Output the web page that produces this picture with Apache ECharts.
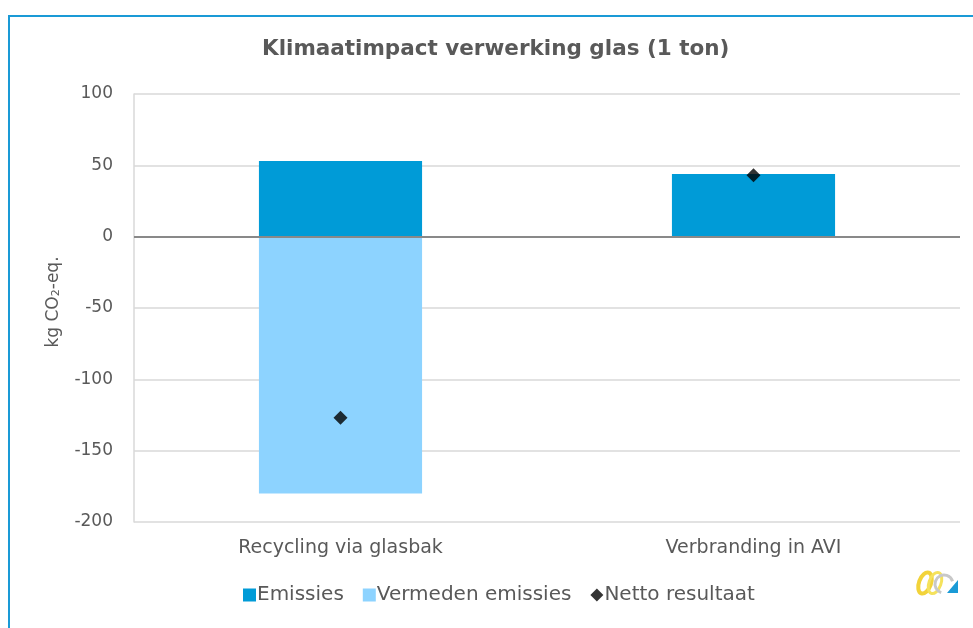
<!DOCTYPE html>
<html>
<head>
<meta charset="utf-8">
<script src="https://cdn.jsdelivr.net/npm/echarts@6/dist/echarts.min.js"></script>
<style>
  html, body { margin: 0; padding: 0; background: #fff; }
  #chart { width: 973px; height: 628px; }
</style>
</head>
<body>
<div id="chart"></div>
<script>
  // data
  var categories = ['Recycling via glasbak', 'Verbranding in AVI']
  var emissies = [53, 44]
  var vermeden = [-180, 0]
  var netto = [-127, 43]
  var yTicks = { min: -200, max: 100, interval: 50 }

  var textColor = '#595959'
  var font = 'DejaVu Sans'

  var chart = echarts.init(document.getElementById('chart'))
  chart.setOption({
    animation: false,
    textStyle: { fontFamily: font },
    graphic: [
      {
        type: 'rect',
        shape: { x: 9, y: 16, width: 980, height: 640 },
        style: { fill: 'none', stroke: '#1a9ad6', lineWidth: 2 },
        silent: true
      },
      // klein logo rechtsonder
      { type: 'ellipse', shape: { cx: 925, cy: 583, rx: 6, ry: 11 }, rotation: -0.35, originX: 925, originY: 583,
        style: { fill: 'none', stroke: '#f2d33a', lineWidth: 4 }, silent: true },
      { type: 'ellipse', shape: { cx: 935, cy: 583, rx: 6, ry: 11 }, rotation: -0.35, originX: 935, originY: 583,
        style: { fill: 'none', stroke: '#f5e25c', lineWidth: 3 }, silent: true },
      { type: 'arc', shape: { cx: 944, cy: 584, r: 9, startAngle: Math.PI * 0.6, endAngle: Math.PI * 1.9 },
        style: { fill: 'none', stroke: '#c8c8c8', lineWidth: 3 }, silent: true },
      { type: 'polygon', shape: { points: [[958, 580], [958, 593], [947, 593]] },
        style: { fill: '#1a9ad6' }, silent: true }
    ],
    title: {
      text: 'Klimaatimpact verwerking glas (1 ton)',
      left: 257,
      top: 33,
      textStyle: { color: textColor, fontSize: 21.5, fontWeight: 'bold', fontFamily: font }
    },
    grid: { left: 134, right: 13, top: 94, bottom: 106 },
    legend: {
      bottom: 18,
      left: 238,
      itemWidth: 13,
      itemHeight: 13,
      itemGap: 19,
      textStyle: { color: textColor, fontSize: 20, fontFamily: font, padding: [0, 0, 0, -4] },
      data: [
        { name: 'Emissies', icon: 'rect' },
        { name: 'Vermeden emissies', icon: 'rect' },
        { name: 'Netto resultaat', icon: 'diamond', itemStyle: { color: '#000' } }
      ]
    },
    xAxis: {
      type: 'category',
      data: categories,
      axisLine: { show: false },
      axisTick: { show: false },
      axisLabel: { color: textColor, fontSize: 19, margin: 17, fontFamily: font }
    },
    yAxis: {
      type: 'value',
      min: yTicks.min,
      max: yTicks.max,
      interval: yTicks.interval,
      name: 'kg CO{sub|2}-eq.',
      nameLocation: 'middle',
      nameGap: 72,
      nameTextStyle: {
        color: textColor, fontSize: 17, fontFamily: font, padding: [0, 0, 0, 12],
        rich: { sub: { fontSize: 11, color: textColor, fontFamily: font, verticalAlign: 'bottom', padding: [6, 0, 0, 0] } }
      },
      axisLine: { show: true, lineStyle: { color: '#d9d9d9', width: 1.5 } },
      axisTick: { show: false },
      axisLabel: { color: textColor, fontSize: 17, margin: 21, fontFamily: font },
      splitLine: { lineStyle: { color: '#d9d9d9', width: 1.5 } }
    },
    series: [
      {
        name: 'Emissies',
        type: 'bar',
        stack: 'totaal',
        barWidth: '39.5%',
        itemStyle: { color: '#009bd7' },
        data: emissies,
        markLine: {
          silent: true,
          symbol: 'none',
          label: { show: false },
          lineStyle: { color: '#898989', type: 'solid', width: 2 },
          data: [{ yAxis: 0 }]
        }
      },
      {
        name: 'Vermeden emissies',
        type: 'bar',
        stack: 'totaal',
        barWidth: '39.5%',
        itemStyle: { color: '#8dd3ff' },
        data: vermeden
      },
      {
        name: 'Netto resultaat',
        type: 'scatter',
        symbol: 'diamond',
        symbolSize: 14,
        itemStyle: { color: '#000' },
        data: netto,
        z: 5
      }
    ]
  })
</script>
</body>
</html>
